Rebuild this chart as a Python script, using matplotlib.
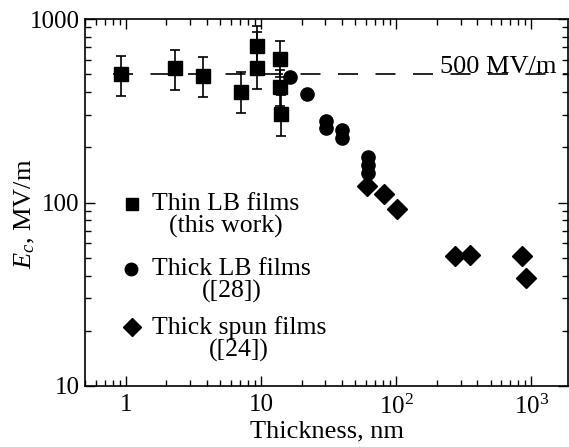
import matplotlib
matplotlib.use("Agg")
import matplotlib.pyplot as plt
import numpy as np
from matplotlib.ticker import FixedLocator, FixedFormatter, LogLocator, NullFormatter

plt.rcParams['font.family'] = ['Liberation Serif', 'DejaVu Serif']
plt.rcParams['mathtext.fontset'] = 'custom'
plt.rcParams['mathtext.rm'] = 'Liberation Serif'
plt.rcParams['mathtext.it'] = 'Liberation Serif:italic'
plt.rcParams['lines.scale_dashes'] = False

# Thin LB films (this work)
thin_x = [0.93, 2.31, 3.75, 7.1, 9.3, 9.3, 13.8, 13.8, 14.0]
thin_y = [500, 539, 489, 400, 712, 543, 605, 424, 303]
thin_lo = [382, 412, 376, 307, 560, 415, 480, 335, 231]
thin_hi = [631, 680, 621, 516, 920, 850, 762, 530, 385]

# Thick LB films ([28])
lb_x = [16.3, 21.9, 30.1, 30.1, 40.0, 40.0, 61.8, 61.8, 61.8]
lb_y = [485, 389, 278, 254, 248, 224, 176, 160, 145]

# Thick spun films ([24])
spun_x = [61.3, 81, 102, 275, 355, 849, 916]
spun_y = [123.6, 111, 91.8, 51.1, 52, 51, 38.6]

ref_level = 500
ref_x = [0.8, 1870]

xticks = [1, 10, 100, 1000]
xticklabels = ['1', '10', '$10^2$', '$10^3$']
yticks = [10, 100, 1000]
yticklabels = ['10', '100', '1000']

fig = plt.figure(figsize=(5.69, 4.47), dpi=100)
ax = fig.add_axes([85/569, 1-386/447, 483/569, 367/447])
ax.set_xscale('log')
ax.set_yscale('log')
ax.set_xlim(0.5, 1870)
ax.set_ylim(10, 1000)

fs_tick = 18
fs_leg = 18.5
fs_lab = 19
# reference line
ax.plot(ref_x, [ref_level, ref_level], color='black', lw=1.2,
        linestyle=(0, (14.4, 12.6)), zorder=1)
ax.text(0.735, (np.log10(ref_level) - 1) / 2 + 0.004, '500 MV/m', transform=ax.transAxes,
        ha='left', va='baseline', fontsize=19, zorder=3)

yerr = [np.array(thin_y) - np.array(thin_lo), np.array(thin_hi) - np.array(thin_y)]
ax.errorbar(thin_x, thin_y, yerr=yerr, fmt='s', color='black', ms=9.6,
            elinewidth=1.2, capsize=3.6, capthick=1.2, zorder=4)
ax.plot(lb_x, lb_y, 'o', color='black', ms=9.5, zorder=4)
ax.plot(spun_x, spun_y, 'D', color='black', ms=10, zorder=4)

# legend drawn as text
def ax_xy(px, py):
    return ((px - 85) / 483, (386 - py) / 367)

leg = [('s', 9, (131.7, 204), 'Thin LB films\n(this work)'),
       ('o', 9, (131.0, 269), 'Thick LB films\n([28])'),
       ('D', 9.5, (132.3, 327), 'Thick spun films\n([24])')]
for m, ms, (px, py), label in leg:
    mx, my = ax_xy(px, py)
    ax.plot([mx], [my], m, color='black', ms=ms, transform=ax.transAxes, clip_on=False)
    tx, ty = ax_xy(152, py - 11)
    ax.text(tx, ty, label, transform=ax.transAxes, ha='left', va='top',
            multialignment='center', fontsize=fs_leg, linespacing=0.98)

ax.xaxis.set_major_locator(FixedLocator(xticks))
ax.xaxis.set_major_formatter(FixedFormatter(xticklabels))
ax.xaxis.set_minor_locator(LogLocator(base=10, subs=np.arange(2, 10)))
ax.xaxis.set_minor_formatter(NullFormatter())
ax.yaxis.set_major_locator(FixedLocator(yticks))
ax.yaxis.set_major_formatter(FixedFormatter(yticklabels))
ax.yaxis.set_minor_locator(LogLocator(base=10, subs=np.arange(2, 10)))
ax.yaxis.set_minor_formatter(NullFormatter())

ax.tick_params(which='both', direction='in', top=True, right=True, labelsize=fs_tick,
               width=1.0)
ax.tick_params(which='major', length=7)
ax.tick_params(which='minor', length=4)
ax.tick_params(axis='x', pad=6)
ax.tick_params(axis='y', pad=4)
for s in ax.spines.values():
    s.set_linewidth(1.2)

ax.set_xlabel('Thickness, nm', fontsize=fs_lab, labelpad=1)
ax.set_ylabel('$E_c$, MV/m', fontsize=fs_lab)
ax.yaxis.set_label_coords(-0.1, 0.47)

fig.savefig('out.png', dpi=100)
